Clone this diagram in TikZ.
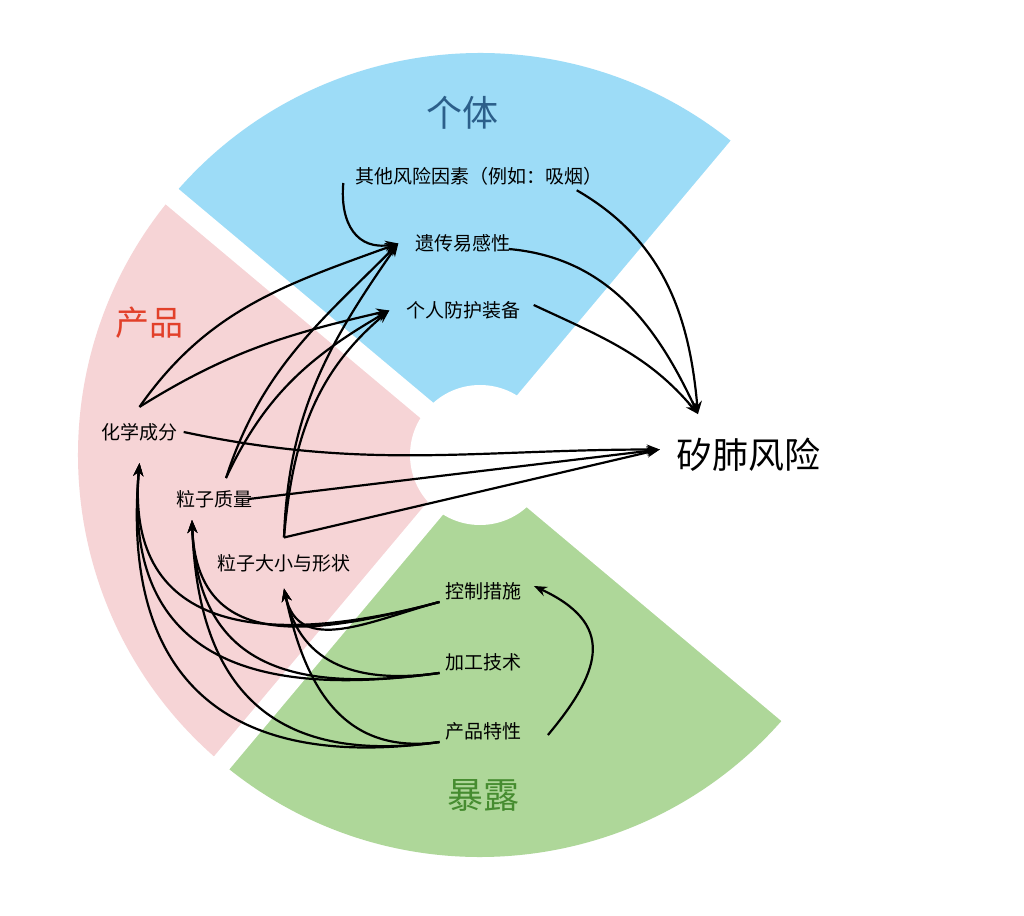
\documentclass[tikz,border=0pt]{standalone}
\usepackage{fontspec}
\setmainfont{Noto Sans CJK SC}
\usetikzlibrary{arrows.meta}
\definecolor{getifill}{HTML}{9DDCF7}
\definecolor{chanpinfill}{HTML}{F6D4D6}
\definecolor{baolufill}{HTML}{AED799}
\definecolor{geticolor}{HTML}{2C5F8A}
\definecolor{chanpincolor}{HTML}{E2402A}
\definecolor{baolucolor}{HTML}{468C30}

\begin{document}
\begin{tikzpicture}[x=1pt,y=1pt,
    factor/.style={inner sep=0pt,font=\fontsize{19}{23}\selectfont},
    title/.style={inner sep=0pt,font=\fontsize{36}{40}\selectfont},
    arr/.style={-{Stealth[length=13pt,width=10pt]},line width=2.2pt},
    gap/.style={white,line width=20pt}]
	\useasboundingbox (-480,-460) rectangle (544,455);
	\fill[white] (-480,-460) rectangle (544,455);
	\fill[getifill] (0,0) -- (50:402) arc[start angle=50,end angle=140,radius=402] -- cycle;
	\fill[chanpinfill] (0,0) -- (140:402) arc[start angle=140,end angle=230,radius=402] -- cycle;
	\fill[baolufill] (0,0) -- (230:402) arc[start angle=230,end angle=320,radius=402] -- cycle;
	\foreach \a in {50,140,230,320} \draw[gap] (0,0) -- (\a:425);
	\fill[white] (0,0) circle[radius=70];

	\node[title,text=geticolor] (geti) at (-17.5,342.5) {个体};
	\node[factor] (qita) at (-1,279) {其他风险因素（例如：吸烟）};
	\node[factor] (yichuan) at (-17,211.5) {遗传易感性};
	\node[factor] (fanghu) at (-16.5,144.5) {个人防护装备};
	\node[title,text=chanpincolor,font=\fontsize{34}{38}\selectfont] (chanpin) at (-330,132) {产品};
	\node[factor] (huaxue) at (-340.5,23) {化学成分};
	\node[factor] (zhiliang) at (-265.5,-44) {粒子质量};
	\node[factor] (daxiao) at (-196,-108.5) {粒子大小与形状};
	\node[title] (guifei) at (268,0) {矽肺风险};
	\node[factor] (kongzhi) at (3.7,-136) {控制措施};
	\node[factor] (jiagong) at (3.7,-207) {加工技术};
	\node[factor] (texing) at (3.7,-276) {产品特性};
	\node[title,text=baolucolor] (baolu) at (3,-340) {暴露};

	\draw[arr] ([xshift=-12pt,yshift=-7pt]qita.west) to[out=-95,in=190,looseness=1.3] ([xshift=-17pt]yichuan.west);
	\draw[arr] ([xshift=-26pt,yshift=-5pt]qita.south east) to[out=-30,in=95] ([xshift=-50pt,yshift=24pt]guifei.north);
	\draw[arr] ([xshift=-2pt,yshift=-5.5pt]yichuan.east) to[out=-5,in=115] ([xshift=-50pt,yshift=24pt]guifei.north);
	\draw[arr] ([xshift=13pt,yshift=5.5pt]fanghu.east) to[out=-25,in=130] ([xshift=-50pt,yshift=24pt]guifei.north);

	\draw[arr] ([yshift=16pt]huaxue.north) to[out=55,in=200] ([xshift=-17pt]yichuan.west);
	\draw[arr] ([yshift=16pt]huaxue.north) to[out=32,in=193] ([xshift=-17pt]fanghu.west);
	\draw[arr] ([xshift=6pt]huaxue.east) to[out=-12,in=180] ([xshift=-16pt,yshift=5.5pt]guifei.west);
	\draw[arr] ([xshift=11.5pt,yshift=12pt]zhiliang.north) to[out=72,in=225] ([xshift=-17pt]yichuan.west);
	\draw[arr] ([xshift=11.5pt,yshift=12pt]zhiliang.north) to[out=65,in=210] ([xshift=-17pt]fanghu.west);
	\draw[arr] ([xshift=-4pt]zhiliang.east) -- ([xshift=-16pt,yshift=5.5pt]guifei.west);
	\draw[arr] ([yshift=17pt]daxiao.north) to[out=88,in=235] ([xshift=-17pt]yichuan.west);
	\draw[arr] ([yshift=17pt]daxiao.north) to[out=85,in=220] ([xshift=-17pt]fanghu.west);
	\draw[arr] ([yshift=17pt]daxiao.north) -- ([xshift=-16pt,yshift=5.5pt]guifei.west);

	\foreach \s/\o in {kongzhi/195,jiagong/188,texing/188}{
		\draw[arr] ([xshift=-6pt,yshift=-2pt]\s.south west) to[out=\o,in=265,looseness=1.35] ([yshift=-22pt]huaxue.south);
		\draw[arr] ([xshift=-6pt,yshift=-2pt]\s.south west) to[out=\o,in=272,looseness=1.3] ([xshift=-22.5pt,yshift=-12pt]zhiliang.south);
		\draw[arr] ([xshift=-6pt,yshift=-2pt]\s.south west) to[out=\o,in=282,looseness=1.15] ([yshift=-16pt]daxiao.south);
	}
	\draw[arr] ([xshift=26pt,yshift=-4pt]texing.east) to[out=50,in=-25,looseness=1.5] ([xshift=12pt,yshift=5pt]kongzhi.east);
\end{tikzpicture}
\end{document}
